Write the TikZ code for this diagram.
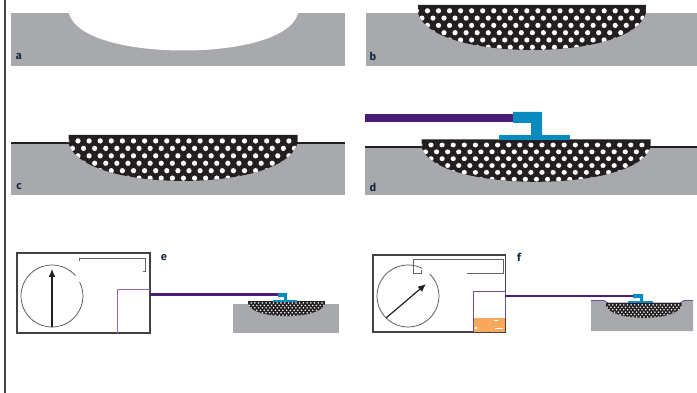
\documentclass[tikz,border=0pt]{standalone}
\usepackage{fontspec}
\setmainfont{Fira Sans}
\usetikzlibrary{arrows.meta,positioning}
\definecolor{rock}{HTML}{A7A9AC}
\definecolor{ink}{HTML}{231F20}
\definecolor{lead}{HTML}{4A1E78}
\definecolor{thinlead}{HTML}{8F6DB5}
\definecolor{probe}{HTML}{0A8BC0}
\definecolor{water}{HTML}{F8A85C}
\definecolor{tag}{HTML}{14263F}
\newcommand{\lensoutline}{(0,0) -- (0,8) .. controls (7,33) and (60,45) .. (114.5,45) .. controls (169,45) and (222,33) .. (229,8) -- (229,0) -- cycle}
\newcommand{\lens}[3]{%
 \begin{scope}[shift={(#1,#2)},#3]
 \fill[ink] \lensoutline;
 \begin{scope}
 \clip \lensoutline;
 \foreach \row in {0,...,6}
 \foreach \col in {0,...,21} {
 \pgfmathsetmacro{\dotx}{\col*11.1+mod(\row,2)*5.55-1.6}
 \fill[white] (\dotx,5.8+\row*7.3) circle (2.6);
 }
 \end{scope}
 \end{scope}}
\begin{document}
\begin{tikzpicture}[x=1pt,y=-1pt,
 rockblock/.style={fill=rock},
 surface/.style={ink,line width=1.5pt},
 probehead/.style={fill=probe},
 meter/.style={draw=ink!85,line width=1.5pt},
 dial/.style={draw=ink!80,line width=0.7pt},
 needle/.style={-{Latex[length=8pt,width=7pt]},ink,line width=1.2pt},
 bracket/.style={draw=ink!70,line width=0.9pt},
 tagtext/.style={font=\bfseries\fontsize{11}{11}\selectfont,text=tag,inner sep=0pt}]
\useasboundingbox (0,0) rectangle (697,393);
\draw[ink!85,line width=1.5pt] (5,0) -- (5,393);
% a
\fill[rockblock] (11,13) rectangle (345,66);
\begin{scope}[shift={(69,5.5)}]
\fill[white] \lensoutline;
\end{scope}
\node[tagtext] (taga) at (19,57) {a};
% b
\fill[rockblock] (366,13) rectangle (697,66);
\lens{418}{5}{xscale=0.995}
\node[tagtext] (tagb) at (373,56) {b};
% c
\fill[rockblock] (11,143) rectangle (345,195);
\draw[surface] (11,143) -- (345,143);
\lens{68.5}{135}{yscale=1.02}
\node[tagtext] (tagc) at (19,187) {c};
% d
\fill[rockblock] (365,147) rectangle (697,195);
\draw[surface] (365,147) -- (697,147);
\lens{421.5}{139.5}{yscale=0.94}
\fill[probehead] (499,135) rectangle (570,140);
\fill[probehead] (513,112) -| (542,135) -| (531,123) -| cycle;
\fill[lead] (365,114) rectangle (513,122);
\node[tagtext] (tagd) at (373,187) {d};
% e
\draw[meter] (17,253) rectangle (150,333);
\draw[dial] (52+31*cos 41,296-31*sin 41) arc[start angle=-41,end angle=-387,radius=31];
\draw[needle] (52,327) -- (52,269);
\draw[bracket] (79,261) |- (145,258) -- (145,271.5) -- (143,271.5);
\draw[thinlead,line width=1pt] (117,333) |- (150,289);
\fill[rockblock] (233,304) rectangle (339,333);
\lens{248}{301}{scale=0.336}
\draw[lead,line width=2.5pt] (150,294.5) -- (278,294.5);
\fill[probehead] (278,293) -| (287,300) -| (284,297) -| cycle;
\fill[probehead] (273,300) rectangle (297,302);
\node[tagtext] (tage) at (164,258) {e};
% f
\draw[meter] (373,255) rectangle (505.5,332);
\draw[dial] (408+31*cos 63,296-31*sin 63) arc[start angle=-63,end angle=-405,radius=31];
\draw[needle] (386,318) -- (426,284);
\draw[bracket] (421,270.5) -- (421,273) -| (413,259) -| (503,273) -- (467,273);
\fill[water] (473,318) rectangle (505,332);
\fill[white] (476,328) circle (1.6);
\draw[white,line width=0.6pt] (494,320.5) -- (498,320.5) (495,328) -- (503,328);
\draw[lead!80!white,line width=1pt] (473,332) |- (505,291.5) -- (505,318);
\fill[rockblock] (591,301) -- (604,301) -- (608,303) -- (680,303) -- (684,301) -- (693,301) -- (693,331) -- (591,331) -- cycle;
\draw[lead!80!white,line width=0.8pt] (591,300.5) -- (604,300.5) -- (608,303) -- (680,303) -- (684,300.5) -- (693,300.5);
\lens{606}{303}{scale=0.33}
\draw[lead,line width=2.5pt] (505,296) -- (633,296);
\fill[probehead] (633,294) -| (643,301) -| (640,298) -| cycle;
\fill[probehead] (628,301) rectangle (653,303);
\node[tagtext] (tagf) at (519,257) {f};
\end{tikzpicture}
\end{document}
